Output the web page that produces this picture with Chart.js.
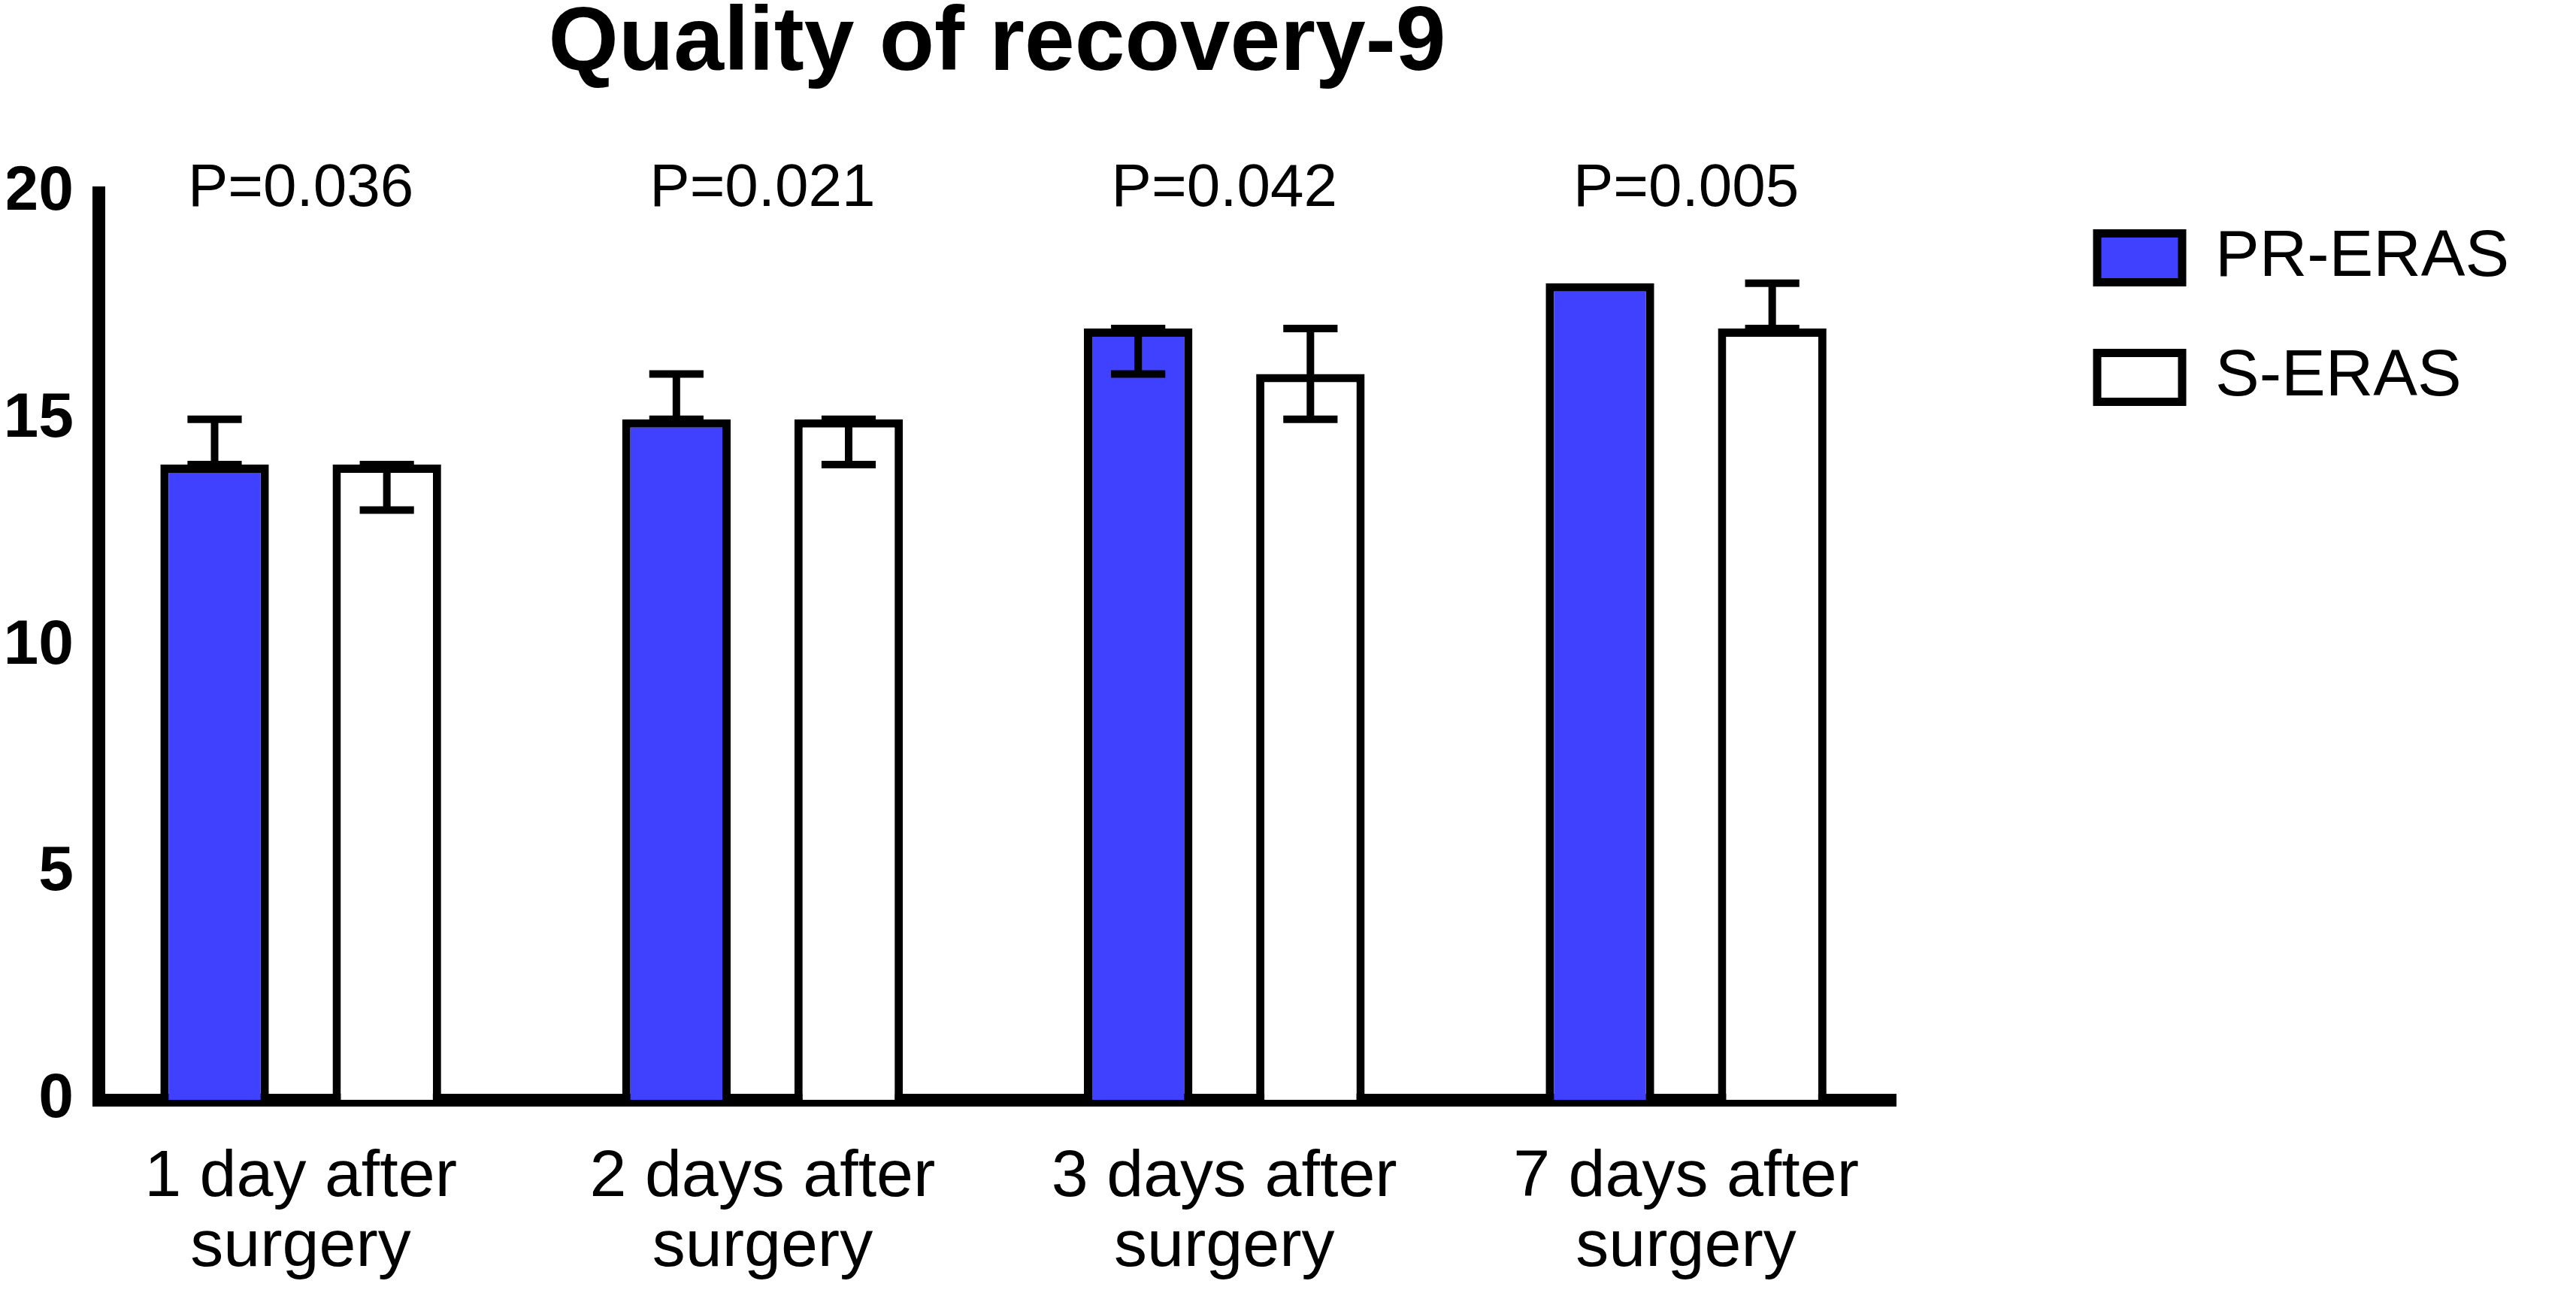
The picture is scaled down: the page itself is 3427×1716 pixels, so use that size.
<!DOCTYPE html>
<html>
<head>
<meta charset="utf-8">
<script src="https://cdn.jsdelivr.net/npm/chart.js@4.4.1/dist/chart.umd.min.js"></script>
<style>
html, body { margin: 0; padding: 0; background: #fff; }
#wrap { width: 3427px; height: 1716px; }
</style>
</head>
<body>
<div id="wrap"><canvas id="qorChart"></canvas></div>
<script>
// values (median with range)
var categories = [['1 day after', 'surgery'], ['2 days after', 'surgery'], ['3 days after', 'surgery'], ['7 days after', 'surgery']];
var prErasMedian = [14, 15, 17, 18];
var prErasLow = [14, 15, 16, 18];
var prErasHigh = [15, 16, 17, 18];
var sErasMedian = [14, 15, 16, 17];
var sErasLow = [13, 14, 15, 17];
var sErasHigh = [14, 15, 17, 18];
var pValues = ['P=0.036', 'P=0.021', 'P=0.042', 'P=0.005'];
var yTicks = [0, 5, 10, 15, 20];

var FONT = "'Liberation Sans', Arial, sans-serif";

function toPoints(values) {
    return values.map(function(v, i) { return {x: i, y: v}; });
}

// error bars + p values on top of the bars
var annotate = {
    id: 'annotate',
    afterDatasetsDraw: function(chart) {
        var ctx = chart.ctx;
        var x = chart.scales.x;
        var y = chart.scales.y;
        var ranges = [[prErasLow, prErasHigh], [sErasLow, sErasHigh]];
        ctx.save();
        ctx.strokeStyle = '#000';
        ctx.lineWidth = 10;
        chart.data.datasets.forEach(function(ds, d) {
            chart.getDatasetMeta(d).data.forEach(function(bar, i) {
                var lo = ranges[d][0][i];
                var hi = ranges[d][1][i];
                if (lo === hi) {
                    return;
                }
                var half = bar.width * 0.25;
                var yLo = y.getPixelForValue(lo);
                var yHi = y.getPixelForValue(hi);
                ctx.beginPath();
                ctx.moveTo(bar.x, yLo);
                ctx.lineTo(bar.x, yHi);
                ctx.moveTo(bar.x - half, yLo);
                ctx.lineTo(bar.x + half, yLo);
                ctx.moveTo(bar.x - half, yHi);
                ctx.lineTo(bar.x + half, yHi);
                ctx.stroke();
            });
        });
        ctx.fillStyle = '#000';
        ctx.font = '80px ' + FONT;
        ctx.textAlign = 'center';
        ctx.textBaseline = 'middle';
        pValues.forEach(function(p, i) {
            ctx.fillText(p, x.getPixelForValue(i), y.getPixelForValue(20) - 4);
        });
        ctx.restore();
    }
};

// park the legend where the figure has it, top right
var legendSpot = {
    id: 'legendSpot',
    afterLayout: function(chart) {
        var lg = chart.legend;
        var pad = lg.options.labels.padding;
        var h = lg.height;
        lg.left = 2790 - pad;
        lg.right = chart.width;
        lg.width = lg.right - lg.left;
        lg.top = 299 - pad;
        lg.bottom = lg.top + h;
    }
};

var ctx = document.getElementById('qorChart');
var qorChart = new Chart(ctx, {
    type: 'bar',
    data: {
        datasets: [{
            label: 'PR-ERAS',
            data: toPoints(prErasMedian),
            backgroundColor: '#4040FF',
            borderColor: '#000',
            borderWidth: 11,
            borderSkipped: 'start'
        }, {
            label: 'S-ERAS',
            data: toPoints(sErasMedian),
            backgroundColor: '#FFFFFF',
            borderColor: '#000',
            borderWidth: 11,
            borderSkipped: 'start'
        }]
    },
    options: {
        responsive: true,
        maintainAspectRatio: false,
        animation: false,
        devicePixelRatio: 1,
        categoryPercentage: 0.746,
        barPercentage: 0.63,
        layout: {
            padding: {left: 10, right: 305, top: 0, bottom: 10}
        },
        plugins: {
            title: {
                display: true,
                fullSize: false,
                text: 'Quality of recovery-9',
                color: '#000',
                font: {family: FONT, size: 120, weight: 'bold', lineHeight: 1.0},
                padding: {top: 0, bottom: 136}
            },
            legend: {
                position: 'right',
                align: 'start',
                maxWidth: 600,
                labels: {
                    color: '#000',
                    font: {family: FONT, size: 88},
                    boxWidth: 113,
                    boxHeight: 65,
                    padding: 71
                }
            },
            tooltip: {enabled: false}
        },
        scales: {
            x: {
                type: 'linear',
                offset: false,
                min: -0.438,
                max: 3.454,
                afterBuildTicks: function(scale) {
                    scale.ticks = categories.map(function(c, i) { return {value: i}; });
                },
                afterFit: function(scale) {
                    scale.height = 243;
                },
                ticks: {
                    color: '#000',
                    font: {family: FONT, size: 88, lineHeight: 1.05},
                    padding: 58,
                    maxRotation: 0,
                    autoSkip: false,
                    callback: function(value) { return categories[value]; }
                },
                grid: {display: false, drawTicks: false},
                border: {display: true, color: '#000', width: 17}
            },
            y: {
                min: 0,
                max: 20,
                afterBuildTicks: function(scale) {
                    scale.ticks = yTicks.map(function(v) { return {value: v}; });
                },
                afterFit: function(scale) {
                    scale.width = 121;
                },
                ticks: {
                    color: '#000',
                    font: {family: FONT, size: 84, weight: 'bold'},
                    padding: 33
                },
                grid: {display: false, drawTicks: false},
                border: {display: true, color: '#000', width: 17}
            }
        }
    },
    plugins: [annotate, legendSpot]
});
</script>
</body>
</html>
